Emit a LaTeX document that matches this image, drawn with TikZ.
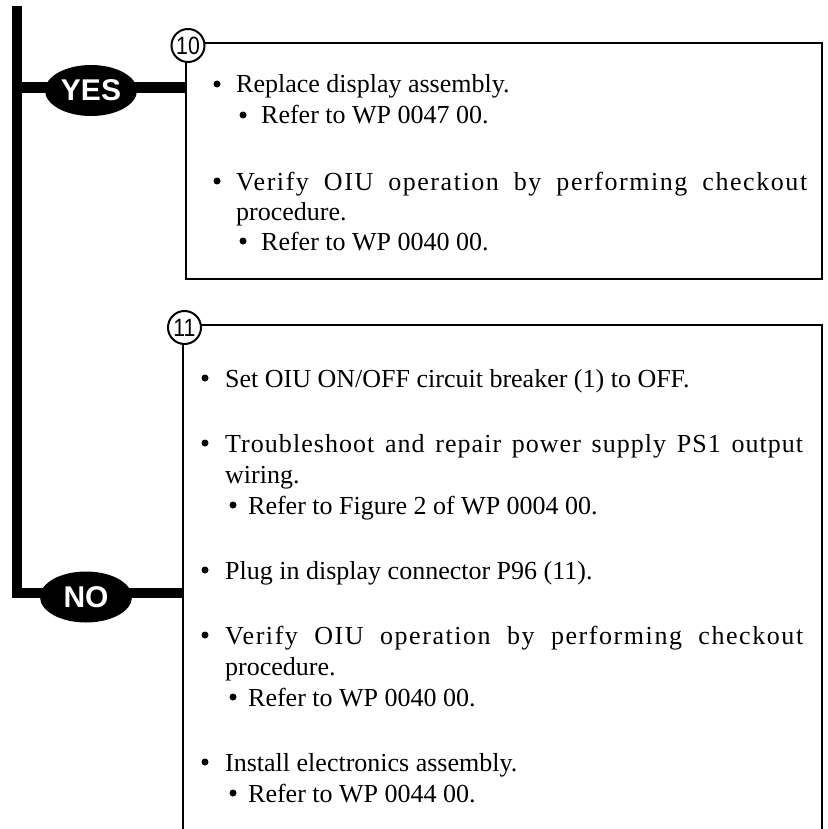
\documentclass[tikz,border=0pt]{standalone}
\usepackage{fontspec}
\setmainfont{Liberation Serif}
\newfontfamily\bodyfont{Liberation Serif}
\newfontfamily\tagfont{Liberation Sans}
\newfontfamily\numfont[FakeStretch=0.85]{Liberation Sans}
\usetikzlibrary{shapes.geometric}
\newcommand\spreadline[3]{{\addfontfeature{LetterSpace=#2}\makebox[#1][s]{#3}}}
\begin{document}
\begin{tikzpicture}[x=1pt,y=-1pt,
  bar/.style={line width=10.5pt, line join=miter},
  boxline/.style={line width=2.2pt, line join=miter},
  tag/.style={ellipse, fill=black, minimum width=92pt, minimum height=51pt, inner sep=0pt, text=white, font=\tagfont\fontsize{30}{30}\selectfont\bfseries},
  num/.style={circle, draw, line width=2pt, fill=white, minimum size=33pt, inner sep=0pt, font=\numfont\fontsize{25}{25}\selectfont},
  txt/.style={anchor=base west, inner sep=0pt, font=\bodyfont\fontsize{26}{26}\selectfont},
  dot/.style={circle, fill=black, minimum size=7pt, inner sep=0pt}
]
\useasboundingbox (0,0) rectangle (827,829);
% coordinates
\coordinate (bartop) at (17,6);
\coordinate (barcorner) at (17,593);
\coordinate (yesjoin) at (17,87.5);
\coordinate (b10tr) at (822,43);
\coordinate (b10bl) at (186,279);
\coordinate (b10br) at (822,279);
\coordinate (b11tr) at (822,325);
\coordinate (b11bl) at (183,840);
\coordinate (b11br) at (822,840);
% main bar and branches
\draw[bar] (bartop) -- (barcorner) -- (barcorner -| b11bl);
\draw[bar] (yesjoin) -- (yesjoin -| b10bl);
% boxes
\draw[boxline] (b10bl |- b10tr) -- (b10tr) -- (b10br) -- (b10bl) -- cycle;
\draw[boxline] (b11bl |- b11tr) -- (b11tr) -- (b11br);
\draw[boxline] (b11bl |- b11tr) -- (b11bl);
% number circles and tags
\node[num] (c10) at (188,45.5) {10};
\node[num] (c11) at (184.5,327.5) {11};
\node[tag] (yes) at (91,90.5) {YES};
\node[tag] (no) at (86,597) {NO};
% box 10 text
\node[dot] (d1) at (217,84) {};
\node[txt] (t1) at (236,93) {Replace display assembly.};
\node[dot] (d2) at (243,115) {};
\node[txt] (t2) at (261,124) {Refer to WP 0047 00.};
\node[dot] (d3) at (217,181) {};
\node[txt] (t3) at (236,190) {\spreadline{571pt}{6}{Verify OIU operation by performing checkout}};
\node[txt] (t4) at (236,220) {procedure.};
\node[dot] (d4) at (243,241) {};
\node[txt] (t5) at (261,250) {Refer to WP 0040 00.};
% box 11 text
\node[dot] (e1) at (205,378) {};
\node[txt] (s1) at (225,387) {Set OIU ON/OFF circuit breaker (1) to OFF.};
\node[dot] (e2) at (205,443) {};
\node[txt] (s2) at (225,452) {\spreadline{578pt}{4}{Troubleshoot and repair power supply PS1 output}};
\node[txt] (s3) at (225,483) {wiring.};
\node[dot] (e3) at (233,505) {};
\node[txt] (s4) at (248,514) {Refer to Figure 2 of WP 0004 00.};
\node[dot] (e4) at (205,570) {};
\node[txt] (s5) at (225,579) {Plug in display connector P96 (11).};
\node[dot] (e5) at (205,635) {};
\node[txt] (s6) at (225,644) {\spreadline{578pt}{6}{Verify OIU operation by performing checkout}};
\node[txt] (s7) at (225,675) {procedure.};
\node[dot] (e6) at (233,697) {};
\node[txt] (s8) at (248,706) {Refer to WP 0040 00.};
\node[dot] (e7) at (205,762) {};
\node[txt] (s9) at (225,771) {Install electronics assembly.};
\node[dot] (e8) at (233,793) {};
\node[txt] (s10) at (248,802) {Refer to WP 0044 00.};
\end{tikzpicture}
\end{document}
